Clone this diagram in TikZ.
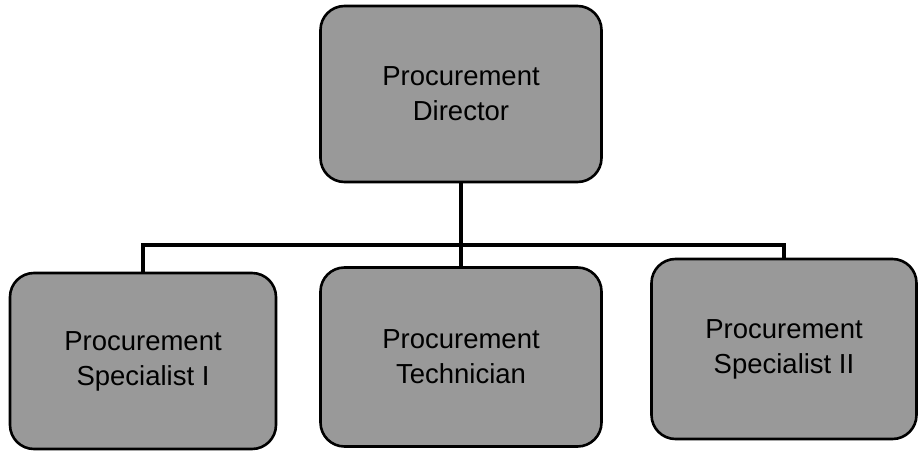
\documentclass[tikz,border=0pt]{standalone}
\usepackage{fontspec}
\setmainfont{Liberation Sans}
\begin{document}
\begin{tikzpicture}[x=1pt,y=-1pt,
  orgbox/.style={draw=black, line width=2.6pt, rounded corners=24pt,
    fill=black!40, inner sep=0pt, align=center,
    font=\fontsize{27.5}{35}\selectfont},
  link/.style={draw=black, line width=3.2pt}]
  \useasboundingbox (0,0) rectangle (919,455);

  % director
  \node[orgbox, minimum width=281pt, minimum height=176pt] (dir) at (461,94)
    {Procurement\\Director};

  % staff
  \node[orgbox, minimum width=266pt, minimum height=176pt] (spec1) at (143,361)
    {Procurement\\Specialist I};
  \node[orgbox, minimum width=281pt, minimum height=179pt] (tech) at (461,357)
    {Procurement\\Technician};
  \node[orgbox, minimum width=265pt, minimum height=180pt] (spec2) at (784,349)
    {Procurement\\Specialist II};

  % reporting lines
  \coordinate (bus) at (dir.south |- 0,245);
  \draw[link] (dir.south) -- (bus);
  \draw[link] (spec1.north) |- (bus) -| (spec2.north);
  \draw[link] (bus -| tech.north) -- (tech.north);
\end{tikzpicture}
\end{document}
